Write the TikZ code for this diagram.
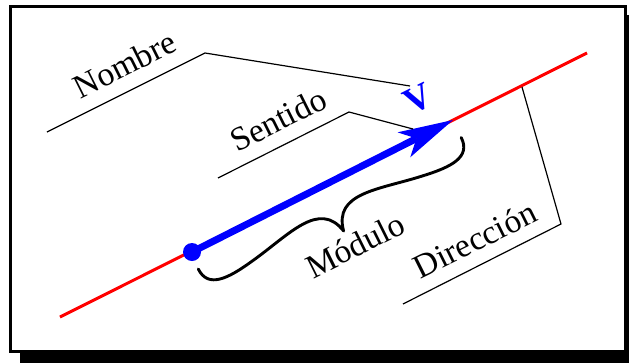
\documentclass[tikz,border=0pt]{standalone}
\usepackage{fontspec}
\setmainfont{Liberation Serif}
\usetikzlibrary{arrows.meta}
\begin{document}
\begin{tikzpicture}[x=1pt,y=-1pt,
  frame/.style={line width=3pt, fill=white},
  axisline/.style={red, line width=3pt},
  vecline/.style={blue, line width=7pt,
    -{Stealth[length=55pt, width=28pt, inset=14pt, line width=0pt]}},
  leader/.style={line width=1.2pt, line join=miter},
  bracecurve/.style={line width=2.9pt, line cap=round, line join=round},
  lbl/.style={font=\fontsize{33.5}{40}\selectfont, rotate=26.565, anchor=base, inner sep=0pt},
  vlbl/.style={font=\bfseries\fontsize{37}{42}\selectfont, text=blue, rotate=26.565, inner sep=0pt}]
\useasboundingbox (0,0) rectangle (629,362);

% drop shadow and frame
\fill[black] (20,15) rectangle (640,372);
\draw[frame] (10.5,6.5) rectangle (625.5,351.5);

% line of action and the vector on it
\coordinate (lineA) at (60,317);
\coordinate (lineB) at (587,53);
\coordinate (tail) at (192,252);
\coordinate (head) at (453,120);
\draw[axisline] (lineA) -- (lineB);
\draw[vecline] (tail) -- (head);
\fill[blue] (tail) circle[radius=9pt];

% labels
\node[lbl] (nombre) at (130,74.5) {Nombre};
\node[lbl] (sentido) at (283.5,129.5) {Sentido};
\node[lbl] (modulo) at (360.5,255.5) {Módulo};
\node[lbl] (direccion) at (480,250) {Dirección};
\node[vlbl] (v) at (418,99) {V};

% leader lines
\coordinate (n0) at (47,132);
\coordinate (n1) at (205,53);
\coordinate (n2) at (410,86);
\coordinate (s0) at (218,178);
\coordinate (s1) at (349,112);
\coordinate (s2) at (413,129);
\coordinate (d0) at (403,304);
\coordinate (d1) at (561,224);
\coordinate (d2) at (522,87);
\draw[leader] (n0) -- (n1) -- (n2);
\draw[leader] (s0) -- (s1) -- (s2);
\draw[leader] (d0) -- (d1) -- (d2);

% curly brace under the vector (local frame: x along the vector, y away from it)
\begin{scope}[shift={(tail)}, rotate=26.565]
  \draw[bracecurve] (-2,18) .. controls (-2,40) and (20,40) .. (50,35)
    .. controls (95,28) and (137,10) .. (145,49)
    .. controls (153,10) and (195,28) .. (240,35)
    .. controls (270,40) and (292,40) .. (292,18);
\end{scope}
\end{tikzpicture}
\end{document}
